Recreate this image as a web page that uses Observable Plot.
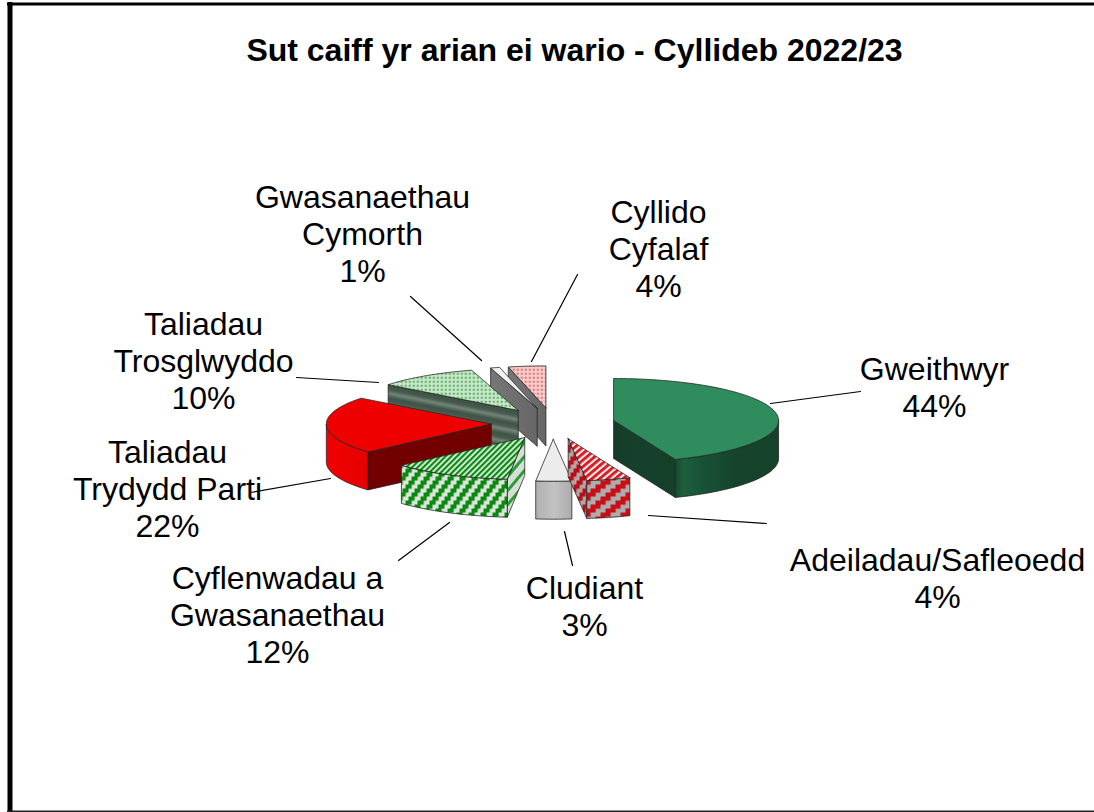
<!DOCTYPE html>
<html>
<head>
<meta charset="utf-8">
<script src="https://cdn.jsdelivr.net/npm/d3@7"></script>
<script src="https://cdn.jsdelivr.net/npm/@observablehq/plot@0.6"></script>
<style>
html,body{margin:0;padding:0;background:#fff}
svg{display:block}
</style>
</head>
<body>
<div id="chart"></div>
<script>
// ---- data, clockwise from twelve o'clock ----
const categories = ["Gweithwyr","Adeiladau/Safleoedd","Cludiant","Cyflenwadau a Gwasanaethau","Taliadau Trydydd Parti","Taliadau Trosglwyddo","Gwasanaethau Cymorth","Cyllido Cyfalaf"];
const shares = [43.9,4.3,3.49,11.75,22.1,9.9,0.9,3.66];
const percentLabels = ["44%","4%","3%","12%","22%","10%","1%","4%"];
const labelLines = ["Gweithwyr","Adeiladau/Safleoedd","Cludiant","Cyflenwadau a\nGwasanaethau","Taliadau\nTrydydd Parti","Taliadau\nTrosglwyddo","Gwasanaethau\nCymorth","Cyllido\nCyfalaf"];
const title = "Sut caiff yr arian ei wario - Cyllideb 2022/23";

// ---- layout ----
const W = 1094, H = 812;
const pie = {cx:552.5, cy:423, rx:165, ry:42, depth:38, explode:0.374};
const paintOrder = [7,6,5,4,3,2,1,0];
const labelAt = [[934,386],[937,577],[584,605],[277,614],[167,488],[203,360],[362,233],[658,248]];
const leaders = [[[770,403],[860,391]],[[648,515],[766,523]],[[564,531],[572,565]],[[449,522],[398,560]],[[330,478],[250,492]],[[378,382],[296,377]],[[481,360],[410,296]],[[531,361],[577,274]]];
const looks = [
  {top:"#2e8c5d", wall:"url(#wallGreen)", side:"url(#sideGreen)"},
  {top:"url(#topRedStripe)", wall:"url(#wallRedStripe)", side:"url(#sideRedStripe)"},
  {top:"#ececec", wall:"url(#wallGrey)", side:"#b4b4b4"},
  {top:"url(#topGreenStripe)", wall:"url(#wallGreenStripe)", side:"url(#sideGreenStripe)"},
  {top:"#ee0000", wall:"url(#wallRed)", side:"#730000"},
  {top:"url(#topGreenDots)", wall:"#4a6152", side:"url(#sideBands)"},
  {top:"#f2f2f2", wall:"#6e6e6e", side:"url(#sidePanel)"},
  {top:"url(#topPinkDots)", wall:"#6e6e6e", side:"url(#sidePanel)"}
];

// ---- slices from shares ----
const total = d3.sum(shares);
let run = 0;
const slices = shares.map((s,i)=>{
  const a0 = run/total*2*Math.PI; run += s;
  const a1 = run/total*2*Math.PI;
  const mid = (a0+a1)/2;
  return {i,a0,a1,ax:pie.cx+pie.explode*pie.rx*Math.sin(mid),ay:pie.cy-pie.explode*pie.ry*Math.cos(mid)};
});
const rim = (s,a)=>[s.ax+pie.rx*Math.sin(a), s.ay-pie.ry*Math.cos(a)];
const arc = (s,a,b)=>{
  const n = Math.max(2,Math.ceil(Math.abs(b-a)/0.03));
  return d3.range(n+1).map(k=>rim(s,a+(b-a)*k/n));
};
const down = ([x,y])=>[x,y+pie.depth];
const faces = [];
for (const i of paintOrder) {
  const s = slices[i], look = looks[i], apex = [s.ax,s.ay];
  const add = (pts,fill)=>faces.push({pts,fill,key:categories[i]});
  const radial = a=>{const r=rim(s,a); return [apex,r,down(r),down(apex)];};
  if (Math.sin(s.a0) < -1e-6) add(radial(s.a0),look.side);
  if (Math.sin(s.a1) > 1e-6) add(radial(s.a1),look.side);
  const f0 = Math.max(s.a0,Math.PI/2), f1 = Math.min(s.a1,3*Math.PI/2);
  if (f1 > f0) { const t = arc(s,f0,f1); add([...t,...t.slice().reverse().map(down)],look.wall); }
  add([apex,...arc(s,s.a0,s.a1)],look.top);
}
const facePoints = faces.flatMap((f,k)=>f.pts.concat([f.pts[0]]).map(p=>({x:p[0],y:p[1],k})));

// staircase stripes, as the 3-D walls of the reference show them
const stairs = (id,cw,ch,on,off)=>{
  let cells = "";
  for (let c=0;c<4;c++) for (let r=0;r<4;r++) if ((c+r)%4<2) cells += `<rect x="${c*cw}" y="${r*ch}" width="${cw+.2}" height="${ch+.2}" fill="${on}"/>`;
  return `<pattern id="${id}" width="${4*cw}" height="${4*ch}" patternUnits="userSpaceOnUse"><rect width="${4*cw}" height="${4*ch}" fill="${off}"/>${cells}</pattern>`;
};
const defs = () => {
  const ns = "http://www.w3.org/2000/svg";
  const g = document.createElementNS(ns,"g");
  g.innerHTML = `<defs>
  <linearGradient id="wallGreen" x1="0" x2="1" y1="0" y2="0"><stop offset="0" stop-color="#17492f"/><stop offset=".08" stop-color="#1d5f3e"/><stop offset=".3" stop-color="#185035"/><stop offset=".6" stop-color="#15432c"/><stop offset="1" stop-color="#154229"/></linearGradient>
  <linearGradient id="sideGreen" x1="0" x2="1" y1="0" y2="0"><stop offset="0" stop-color="#133d28"/><stop offset=".2" stop-color="#163f2b"/><stop offset="1" stop-color="#14402a"/></linearGradient>
  <linearGradient id="wallGrey" x1="0" x2="1" y1="0" y2="0"><stop offset="0" stop-color="#b0b0b0"/><stop offset=".5" stop-color="#c2c2c2"/><stop offset="1" stop-color="#acacac"/></linearGradient>
  <linearGradient id="wallRed" x1="0" x2="1" y1="0" y2="0"><stop offset="0" stop-color="#f00000"/><stop offset="1" stop-color="#e60000"/></linearGradient>
  <linearGradient id="sidePanel" x1="0" x2="1" y1="0" y2="0"><stop offset="0" stop-color="#777"/><stop offset="1" stop-color="#666"/></linearGradient>
  <linearGradient id="bandGrad" x1="0" x2="0" y1="0" y2="1"><stop offset="0" stop-color="#3e5345"/><stop offset=".35" stop-color="#475c4e"/><stop offset=".62" stop-color="#74847a"/><stop offset="1" stop-color="#3e5345"/></linearGradient>
  <pattern id="topRedStripe" width="5" height="5" patternUnits="userSpaceOnUse" patternTransform="rotate(-40)"><rect width="5" height="5" fill="#ffeeee"/><rect width="5" height="2.9" fill="#dc1a22"/></pattern>
  ${stairs("wallRedStripe",5,4,"#c60f17","#adadad")}
  ${stairs("sideRedStripe",3,4,"#b80f16","#b5a5a5")}
  <pattern id="topGreenStripe" width="4" height="4" patternUnits="userSpaceOnUse" patternTransform="rotate(-45)"><rect width="4" height="4" fill="#eef7ee"/><rect width="4" height="2.3" fill="#0a8a12"/></pattern>
  ${stairs("wallGreenStripe",3,4,"#0a880f","#dde5dd")}
  <pattern id="sideGreenStripe" width="9" height="9" patternUnits="userSpaceOnUse" patternTransform="rotate(-50)"><rect width="9" height="9" fill="#d5dfd5"/><rect width="9" height="3" fill="#2f9a38"/></pattern>
  <pattern id="topGreenDots" width="4" height="4" patternUnits="userSpaceOnUse"><rect width="4" height="4" fill="#c8eec8"/><rect x=".5" y=".5" width="1.7" height="1.7" fill="#2f7a3c"/></pattern>
  <pattern id="topPinkDots" width="4" height="4" patternUnits="userSpaceOnUse"><rect width="4" height="4" fill="#f8d2d0"/><rect x=".5" y=".5" width="1.7" height="1.7" fill="#cc3b3b"/></pattern>
  <pattern id="sideBands" width="12" height="12" patternUnits="userSpaceOnUse" patternTransform="rotate(11.5)"><rect width="12" height="12" fill="url(#bandGrad)"/></pattern>
  </defs>`;
  return g;
};

const labels = categories.map((c,i)=>({c,text:labelLines[i]+"\n"+percentLabels[i],x:labelAt[i][0],y:labelAt[i][1]}));
const leaderRows = leaders.flatMap((l,k)=>l.map(p=>({x:p[0],y:p[1],k})));

const chart = Plot.plot({
  width:W, height:H, margin:0,
  style:{background:"#fff",fontFamily:"'Liberation Sans',Arial,sans-serif"},
  x:{domain:[0,W],range:[0,W],axis:null},
  y:{domain:[0,H],range:[0,H],axis:null},
  marks:[
    defs,
    ...faces.map((f,k)=>Plot.line(facePoints.filter(p=>p.k===k),{x:"x",y:"y",fill:f.fill,stroke:"#222",strokeWidth:0.9,strokeOpacity:0.85,strokeLinejoin:"round",curve:"linear"})),
    Plot.line(leaderRows,{x:"x",y:"y",z:"k",stroke:"#000",strokeWidth:1.2}),
    Plot.text(labels,{x:"x",y:"y",text:"text",fontSize:32,lineHeight:1.155,fill:"#000",textAnchor:"middle",lineAnchor:"middle"}),
    Plot.text([title],{x:()=>574,y:()=>50,text:d=>d,fontSize:32,fontWeight:"bold",fill:"#000",textAnchor:"middle"}),
    // frame
    Plot.ruleX([9.5],{y1:2,y2:812,stroke:"#000",strokeWidth:5}),
    Plot.ruleY([3.5],{x1:7,x2:W,stroke:"#000",strokeWidth:3}),
    Plot.ruleY([811],{x1:7,x2:W,stroke:"#222",strokeWidth:2})
  ]
});
document.getElementById("chart").appendChild(chart);
</script>
</body>
</html>
